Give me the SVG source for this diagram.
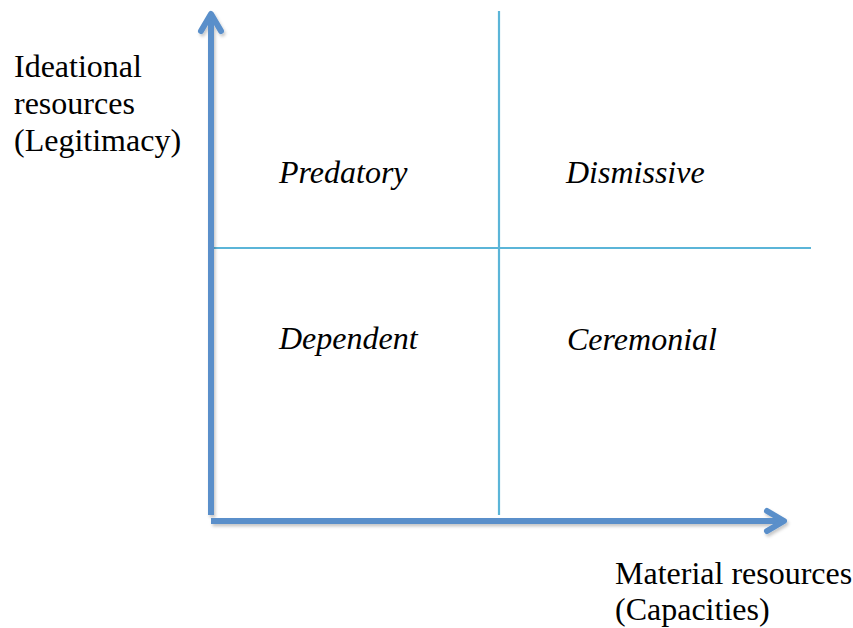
<svg xmlns="http://www.w3.org/2000/svg" width="853" height="628" viewBox="0 0 853 628">
  <style>
    .lbl { font-family: "Liberation Serif", "Times New Roman", serif; font-size: 32px; fill: #000; }
    .quad { font-family: "Liberation Serif", "Times New Roman", serif; font-size: 32px; font-style: italic; fill: #000; }
    .axis { stroke: #5A8FCA; stroke-width: 6; fill: none; stroke-linecap: butt; stroke-linejoin: round; }
    .head { stroke: #5A8FCA; stroke-width: 6; fill: none; stroke-linecap: round; stroke-linejoin: round; }
    .div { stroke: #5BB5D8; stroke-width: 2.2; fill: none; }
  </style>
  <defs>
    <filter id="sh" x="-10%" y="-10%" width="120%" height="120%">
      <feDropShadow dx="1.5" dy="2.5" stdDeviation="1.5" flood-color="#000" flood-opacity="0.22"/>
    </filter>
  </defs>
  <rect width="853" height="628" fill="#fff"/>
  <g id="connectors">
    <line class="div" x1="499" y1="11" x2="499" y2="515"/>
    <line class="div" x1="211" y1="248" x2="811" y2="248"/>
    <g filter="url(#sh)">
      <line class="axis" x1="211" y1="515" x2="211" y2="15"/>
      <polyline class="head" points="201,31 211,14 221,31"/>
      <line class="axis" x1="211" y1="521" x2="783" y2="521"/>
      <polyline class="head" points="767,511 784,521 767,531"/>
    </g>
  </g>
  <g id="y-axis-label">
    <text class="lbl" x="14" y="77">Ideational</text>
    <text class="lbl" x="14" y="114">resources</text>
    <text class="lbl" x="14" y="151">(Legitimacy)</text>
  </g>
  <g id="x-axis-label">
    <text class="lbl" x="615" y="584">Material resources</text>
    <text class="lbl" x="615" y="620">(Capacities)</text>
  </g>
  <g id="predatory"><text class="quad" x="279" y="183">Predatory</text></g>
  <g id="dismissive"><text class="quad" x="566" y="183">Dismissive</text></g>
  <g id="dependent"><text class="quad" x="279" y="349">Dependent</text></g>
  <g id="ceremonial"><text class="quad" x="567" y="350">Ceremonial</text></g>
</svg>
